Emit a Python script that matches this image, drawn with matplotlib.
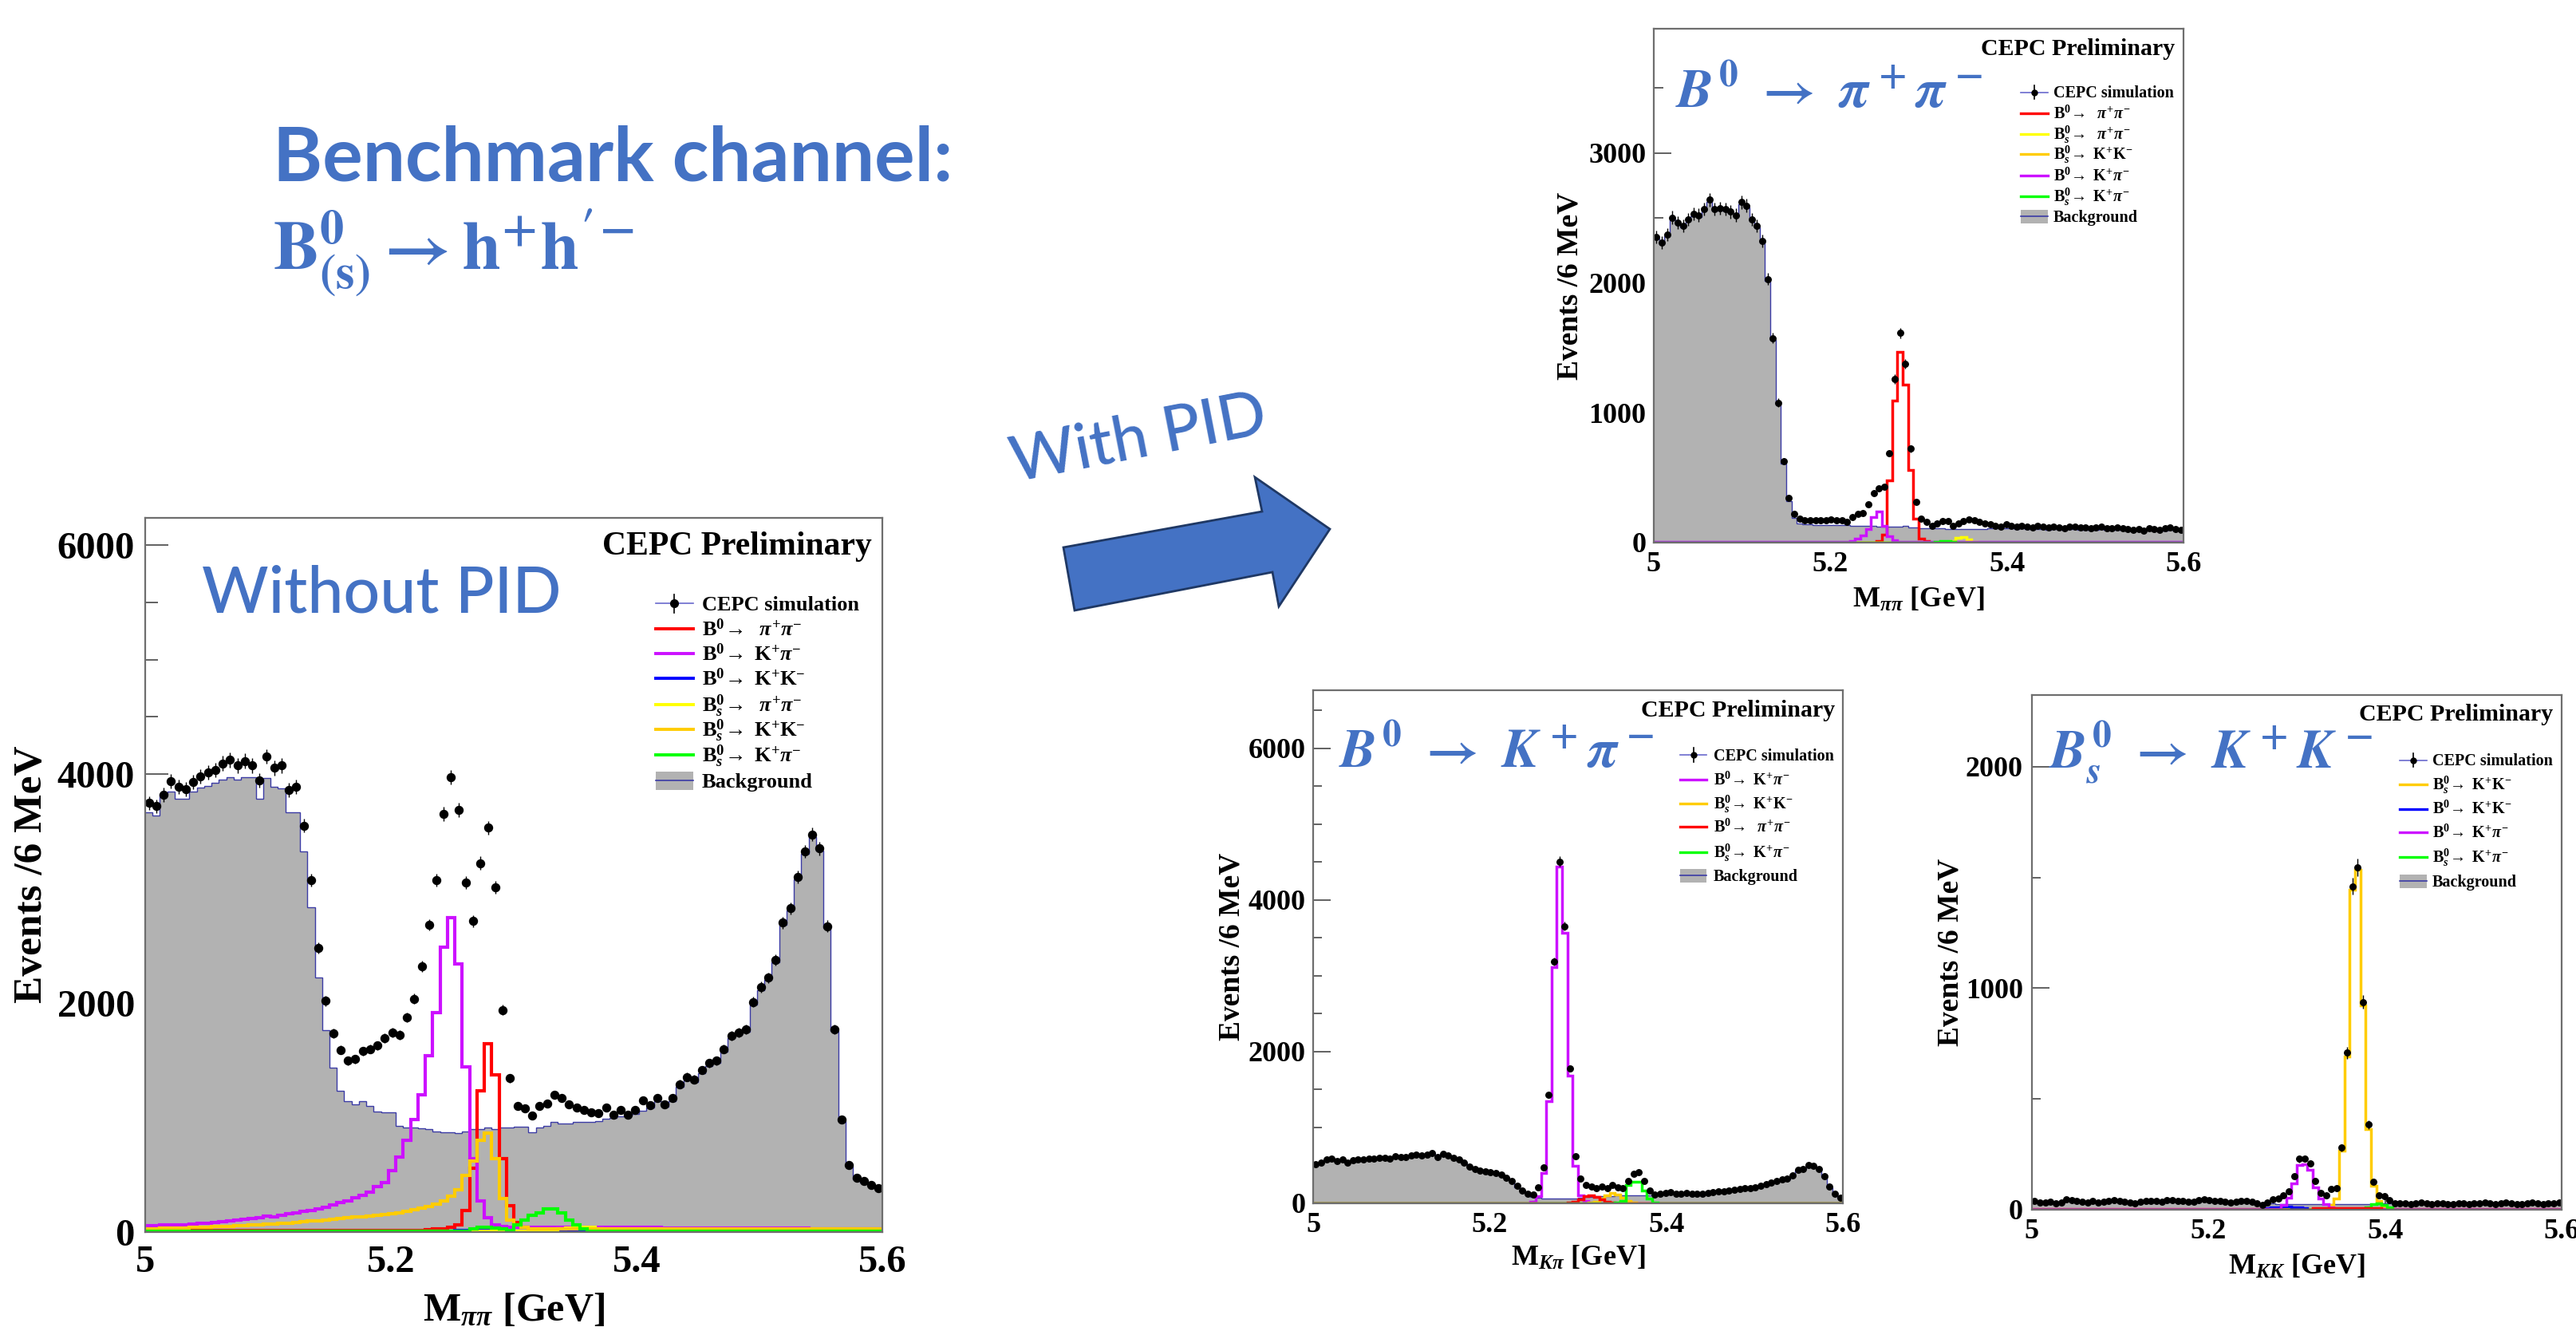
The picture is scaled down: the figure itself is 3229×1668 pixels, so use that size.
import numpy as np
import matplotlib
matplotlib.use("Agg")
import matplotlib.pyplot as plt
from matplotlib.patches import Polygon, Rectangle
from matplotlib.lines import Line2D
from matplotlib.ticker import MultipleLocator, FuncFormatter

# ---------------- data (events per 6 MeV bin, 100 bins from 5.0 to 5.6 GeV) ----------------
X_MIN, X_MAX, N_BINS = 5.0, 5.6, 100

# Left: without PID
L_DATA = [3746,3718,3820,3939,3890,3869,3930,3980,4012,4033,
          4094,4123,4074,4115,4074,3943,4155,4053,4074,3861,
          3890,3550,3072,2479,2020,1734,1591,1497,1509,1579,
          1599,1628,1693,1742,1722,1873,2037,2323,2683,3072,
          3652,3971,3685,3051,2716,3223,3530,3010,1939,1342,
          1100,1080,1018,1100,1121,1198,1170,1117,1088,1067,
          1047,1039,1088,1027,1067,1027,1067,1149,1108,1170,
          1117,1170,1292,1354,1333,1415,1476,1497,1599,1714,
          1742,1771,2008,2139,2221,2376,2703,2826,3100,3325,
          3472,3350,2671,1771,986,585,474,446,413,384]
L_BKG = [3665,3636,3828,3849,3787,3787,3849,3881,3898,3922,
         3951,3971,3951,3971,3971,3787,3963,3890,3877,3665,
         3665,3325,2834,2221,1763,1436,1231,1141,1117,1141,
         1100,1055,1047,1047,924,912,912,905,900,880,
         870,870,865,880,900,900,910,900,910,915,
         920,920,870,915,930,960,945,950,960,960,
         965,970,990,1000,1010,1020,1030,1060,1085,1145,
         1095,1145,1265,1330,1310,1390,1450,1475,1575,1690,
         1720,1750,1985,2115,2200,2355,2680,2805,3080,3305,
         3450,3330,2655,1755,970,570,460,432,400,372]
L_RED = [15]*38 + [20,30,30,40,65,188,556,1231,1648,1374,638,229,86,40,25] + [15]*47
L_MAG = [55,55,60,60,65,65,70,75,80,85,
         90,100,105,110,120,125,140,135,145,160,
         170,180,190,200,215,235,260,275,300,320,
         350,400,430,536,658,802,986,1198,1538,1918,
         2487,2744,2344,1444,638,270,127,65,50,45] + [40]*20 + [35]*20 + [30]*10
L_BLU = [5]*40 + [8,10,12,15,18,20,18,15,12,10,8] + [5]*49
L_YEL = [8]*55 + [15,25,35,45,45,40,30,20,12] + [8]*36
L_ORG = [30,30,32,33,35,37,40,42,45,48,
         50,52,55,58,62,65,68,72,76,80,
         85,90,95,100,105,110,118,125,130,135,
         140,145,150,160,170,180,195,210,225,245,
         270,311,372,495,618,802,863,638,290,106,
         65,45] + [30]*24 + [25]*24
L_GRN = [5]*44 + [30,40,40,35,25,15,65,106,147,168,200,200,168,106,65,25] + [5]*40

# Top: B0 -> pi pi selection
T_DATA = [2355,2309,2373,2503,2464,2438,2490,2529,2521,2568,
          2640,2568,2573,2568,2547,2521,2620,2594,2490,2438,
          2322,2029,1575,1078,624,345,223,184,171,171,
          171,171,171,176,171,171,158,197,223,228,
          293,378,417,430,689,1259,1614,1376,723,314,
          184,158,132,145,163,163,132,145,163,179,
          171,158,145,140,130,125,140,128,120,130,
          125,118,128,120,115,125,118,110,120,125,
          115,118,110,115,120,112,108,118,110,105,
          100,105,95,110,105,100,108,115,105,100]
T_BKG = [2340,2295,2360,2490,2450,2425,2475,2515,2505,2555,
         2625,2555,2560,2555,2535,2505,2605,2580,2475,2425,
         2310,2015,1560,1065,610,320,190,150,140,140,
         138,138,136,136,136,135,134,132,130,130,
         128,126,125,124,122,120,122,128,118,116,
         112,110,110,108,108,106,106,105,105,104,
         104,103,103,110,108,108,112,108,104,108,
         106,102,106,104,100,104,102,98,102,104,
         100,100,98,100,102,98,96,100,97,94,
         92,94,90,96,94,92,95,98,94,92]
T_RED = [3]*42 + [15,60,482,1096,1466,1215,560,184,28,10] + [3]*48
T_YEL = [2]*55 + [5,15,35,41,25,8] + [2]*39
T_ORG = [3]*100
T_MAG = [5]*37 + [15,28,54,106,197,241,132,49,16] + [5]*54
T_GRN = [2]*53 + [8,12,12,8] + [2]*43

# Bottom middle: B0 -> K pi selection
M_DATA = [514,542,584,591,556,577,542,567,574,577,
          591,594,601,601,591,619,612,612,636,643,
          636,643,661,608,657,629,601,574,532,479,
          455,434,416,409,398,374,339,297,227,171,
          129,112,206,478,1435,3188,4508,3655,1776,626,
          322,238,217,199,217,199,238,213,196,294,
          392,409,294,164,119,129,136,143,129,129,
          136,129,122,129,140,147,154,154,164,182,
          189,196,203,213,231,248,273,297,315,322,
          367,437,455,507,490,455,353,220,129,77]
M_BKG = [508,536,578,585,550,571,536,561,568,571,
         585,588,595,595,585,613,606,606,630,637,
         630,637,655,602,651,623,595,568,526,473,
         449,428,410,403,392,368,333,291,215,160,
         115,85,70,68,65,62,60,62,65,68,
         72,80,88,92,95,95,98,100,102,105,
         108,108,106,110,112,123,130,137,123,123,
         130,123,116,123,134,141,148,148,158,176,
         183,190,197,207,225,242,267,291,309,316,
         361,431,449,501,484,449,347,214,123,71]
M_MAG = [3]*41 + [20,97,395,1345,3117,4440,3569,1680,490,100,30,10] + [3]*47
M_ORG = [4]*52 + [10,25,60,110,135,120,70,30,10] + [4]*39
M_RED = [2]*48 + [10,25,55,95,105,85,50,25,10] + [2]*43
M_GRN = [2]*57 + [10,30,240,285,285,165,60,15] + [2]*35

# Bottom right: Bs -> K K selection
R_DATA = [38,34,32,36,30,34,46,44,38,36,
          33,38,32,35,40,42,38,36,32,30,
          35,38,40,38,36,42,45,40,38,36,
          35,44,48,42,38,40,37,34,36,38,
          40,36,28,22,34,46,49,64,83,150,
          229,231,210,131,77,64,95,97,280,709,
          1460,1545,938,384,125,64,61,43,28,30,
          28,26,30,32,28,25,28,30,27,24,
          28,30,26,28,30,32,28,26,30,33,
          28,25,27,30,32,28,26,30,28,32]
R_BKG = [35,31,29,33,27,31,43,41,35,33,
         30,35,29,32,37,39,35,33,29,27,
         32,35,37,35,33,39,42,37,35,33,
         32,41,45,39,35,37,34,31,33,35,
         37,33,25,20,28,28,26,26,26,26,
         26,25,25,25,25,25,26,26,26,27,
         27,27,27,27,27,27,28,28,25,27,
         25,23,27,29,25,22,25,27,24,21,
         25,27,23,25,27,29,25,23,27,30,
         25,22,24,27,29,25,23,27,25,29]
R_ORG = [3]*56 + [20,50,265,693,1445,1533,922,362,107,40,15] + [3]*33
R_BLU = [1]*44 + [8,10,12,14,14,12,10,8] + [1]*48
R_MAG = [2]*47 + [22,55,120,200,205,180,100,50,25,10] + [2]*43
R_GRN = [1]*63 + [10,25,30,20,10] + [1]*32
R_RED = [1]*53 + [6,8,8,8,8,8,8,8,8,8,8,8,6] + [1]*34

# ---------------- style ----------------
W, H = 3230, 1668
RED, MAG, BLU, YEL, ORG, GRN = "#FF0000", "#CC11FF", "#0000FF", "#FFFF00", "#FFCC00", "#00FF00"
GREY, BKG_LINE, TXT_BLUE = "#B2B2B2", "#3B3BA5", "#4472C4"

plt.rcParams["font.family"] = ["Liberation Serif", "DejaVu Serif"]
plt.rcParams["font.weight"] = "bold"
plt.rcParams["mathtext.fontset"] = "custom"
plt.rcParams["mathtext.rm"] = "Liberation Serif:bold"
plt.rcParams["mathtext.it"] = "Liberation Serif:italic:bold"
plt.rcParams["mathtext.bf"] = "Liberation Serif:bold"

fig = plt.figure(figsize=(W / 100, H / 100), dpi=100)
edges = np.linspace(X_MIN, X_MAX, N_BINS + 1)
centers = 0.5 * (edges[:-1] + edges[1:])
half = 0.5 * (edges[1] - edges[0])


def fx(x):
    return x / W


def fy(y):
    return 1 - y / H


def make_axes(x0, y0, x1, y1):
    return fig.add_axes([x0 / W, 1 - y1 / H, (x1 - x0) / W, (y1 - y0) / H])


def panel(ax, data, bkg, comps, ymax, major, tick_fs, maj_len, min_len, lw, ms, ypad, xpad):
    ax.stairs(bkg, edges, fill=True, color=GREY, zorder=1)
    ax.stairs(bkg, edges, color=BKG_LINE, lw=1.0, baseline=None, zorder=2)
    for vals, col in comps:
        ax.stairs(vals, edges, color=col, lw=lw, baseline=None, zorder=3)
    d = np.asarray(data, float)
    ax.errorbar(centers, d, xerr=half, yerr=np.sqrt(d), fmt="o", color="k", ms=ms,
                elinewidth=1.0, capsize=0, zorder=5)
    ax.set_xlim(X_MIN, X_MAX)
    ax.set_ylim(0, ymax)
    ax.set_axisbelow(True)
    ax.yaxis.set_major_locator(MultipleLocator(major))
    ax.yaxis.set_minor_locator(MultipleLocator(500))
    ax.xaxis.set_major_locator(MultipleLocator(0.2))
    ax.xaxis.set_major_formatter(FuncFormatter(lambda v, p: f"{v:g}"))
    ax.tick_params(axis="y", which="major", direction="in", length=maj_len, width=1.3,
                   color="#555555", labelsize=tick_fs, pad=ypad)
    ax.tick_params(axis="y", which="minor", direction="in", length=min_len, width=1.3, color="#555555")
    ax.tick_params(axis="x", which="major", direction="in", length=maj_len * 0.6, width=1.3,
                   color="#555555", labelsize=tick_fs, pad=xpad)
    for lab in ax.get_xticklabels() + ax.get_yticklabels():
        lab.set_fontweight("bold")
    for s in ax.spines.values():
        s.set_color("#6E6E6E")
        s.set_linewidth(1.6)
        s.set_zorder(6)


def legend(rows, x0, x1, xt, ys, fs, lw, ms, box_h):
    em = fs * 100 / 72
    xm = 0.5 * (x0 + x1)
    for (kind, label, color), y in zip(rows, ys):
        if kind == "data":
            fig.add_artist(Line2D([fx(x0), fx(x1)], [fy(y), fy(y)], color="#6A6ACD", lw=1.2))
            fig.add_artist(Line2D([fx(xm), fx(xm)], [fy(y - box_h / 2), fy(y + box_h / 2)], color="k", lw=1.2))
            fig.add_artist(Line2D([fx(xm)], [fy(y)], marker="o", color="k", ms=ms, ls="none"))
        elif kind == "line":
            fig.add_artist(Line2D([fx(x0), fx(x1)], [fy(y), fy(y)], color=color, lw=lw))
        else:
            fig.add_artist(Rectangle((fx(x0), fy(y + box_h / 2)), (x1 - x0) / W, box_h / H,
                                     transform=fig.transFigure, color=GREY, lw=0))
            fig.add_artist(Line2D([fx(x0), fx(x1)], [fy(y), fy(y)], color=BKG_LINE, lw=1.2))
        fig.text(fx(xt), fy(y + 0.33 * em), label, fontsize=fs, fontweight="bold",
                 ha="left", va="baseline")


LBL = {
    "sim": ("data", "CEPC simulation", None),
    "b0pipi": ("line", r"B$^{0}\!\rightarrow$  $\pi^{+}\pi^{-}$", RED),
    "b0kpi": ("line", r"B$^{0}\!\rightarrow$ K$^{+}\pi^{-}$", MAG),
    "b0kk": ("line", r"B$^{0}\!\rightarrow$ K$^{+}$K$^{-}$", BLU),
    "bspipi": ("line", r"B$_{s}^{0}\!\rightarrow$  $\pi^{+}\pi^{-}$", YEL),
    "bskk": ("line", r"B$_{s}^{0}\!\rightarrow$ K$^{+}$K$^{-}$", ORG),
    "bskpi": ("line", r"B$_{s}^{0}\!\rightarrow$ K$^{+}\pi^{-}$", GRN),
    "bkg": ("bkg", "Background", None),
}


def prelim(xr, yc, fs):
    em = fs * 100 / 72
    fig.text(fx(xr), fy(yc + 0.33 * em), "CEPC Preliminary", fontsize=fs, fontweight="bold",
             ha="right", va="baseline")


def blue_math(x, y, s, fs=49):
    fig.text(fx(x), fy(y), s, fontsize=fs, color=TXT_BLUE, math_fontfamily="stix",
             fontweight="normal", ha="left", va="baseline")


# ---------------- left panel (without PID) ----------------
axL = make_axes(182, 649, 1106, 1544)
panel(axL, L_DATA, L_BKG,
      [(L_RED, RED), (L_MAG, MAG), (L_BLU, BLU), (L_YEL, YEL), (L_ORG, ORG), (L_GRN, GRN)],
      6237, 2000, 35, 21, 11.5, 3.0, 7.2, 9.4, 11.5)
prelim(1093, 681, 30)
legend([LBL[k] for k in ["sim", "b0pipi", "b0kpi", "b0kk", "bspipi", "bskk", "bskpi", "bkg"]],
       822, 869, 880, [756, 788, 819, 850, 883, 914, 946, 978], 19, 2.8, 7, 23)
fig.text(fx(644), fy(1643), r"M$_{\pi\pi}$ [GeV]", fontsize=36, fontweight="bold", ha="center", va="center")
fig.text(fx(40), fy(1096), "Events /6 MeV", fontsize=37, fontweight="bold", ha="center", va="center",
         rotation=90)
fig.text(fx(253), fy(768), "Without PID", fontsize=58, color=TXT_BLUE, family="Lato",
         fontweight="medium", ha="left", va="baseline")

# ---------------- top panel (B0 -> pi pi) ----------------
axT = make_axes(2073, 35.5, 2737, 680)
panel(axT, T_DATA, T_BKG,
      [(T_RED, RED), (T_YEL, YEL), (T_ORG, ORG), (T_MAG, MAG), (T_GRN, GRN)],
      3959, 1000, 26, 16, 8.5, 2.5, 5.4, 7, 8)
prelim(2726, 59, 21.5)
legend([LBL[k] for k in ["sim", "b0pipi", "bspipi", "bskk", "b0kpi", "bskpi", "bkg"]],
       2533, 2567, 2574, [115.6, 141.8, 167.9, 193.2, 219.8, 246, 271.2], 14.5, 2.4, 5, 17)
fig.text(fx(2405), fy(752), r"M$_{\pi\pi}$ [GeV]", fontsize=26, fontweight="bold", ha="center", va="center")
fig.text(fx(1968), fy(358), "Events /6 MeV", fontsize=27, fontweight="bold", ha="center", va="center",
         rotation=90)
blue_math(2100, 135, r"$B^0\ \rightarrow\ \pi^+\pi^-$")

# ---------------- bottom middle (B0 -> K pi) ----------------
axM = make_axes(1646, 865, 2310, 1508)
panel(axM, M_DATA, M_BKG,
      [(M_MAG, MAG), (M_ORG, ORG), (M_RED, RED), (M_GRN, GRN)],
      6768, 2000, 26, 16, 8, 2.5, 5.4, 6.5, 8)
prelim(2300, 888, 21.5)
legend([LBL[k] for k in ["sim", "b0kpi", "bskk", "b0pipi", "bskpi", "bkg"]],
       2106, 2139, 2148, [946, 977, 1007, 1036, 1068, 1097], 14.5, 2.4, 5, 17)
fig.text(fx(1978), fy(1577), r"M$_{K\pi}$ [GeV]", fontsize=26, fontweight="bold", ha="center", va="center")
fig.text(fx(1544), fy(1186), "Events /6 MeV", fontsize=27, fontweight="bold", ha="center", va="center",
         rotation=90)
blue_math(1678, 962, r"$B^0\ \rightarrow\ K^+\pi^-$")

# ---------------- bottom right (Bs -> K K) ----------------
axR = make_axes(2547, 871, 3211, 1516)
panel(axR, R_DATA, R_BKG,
      [(R_ORG, ORG), (R_BLU, BLU), (R_MAG, MAG), (R_GRN, GRN), (R_RED, RED)],
      2323, 1000, 26, 16, 8, 2.5, 5.4, 8, 8)
prelim(3200, 893, 21.5)
legend([LBL[k] for k in ["sim", "bskk", "b0kk", "b0kpi", "bskpi", "bkg"]],
       3008, 3042, 3049, [952.5, 983, 1013.6, 1043, 1074, 1104], 14.5, 2.4, 5, 17)
fig.text(fx(2879), fy(1588), r"M$_{KK}$ [GeV]", fontsize=26, fontweight="bold", ha="center", va="center")
fig.text(fx(2445), fy(1193), "Events /6 MeV", fontsize=27, fontweight="bold", ha="center", va="center",
         rotation=90)
blue_math(2568, 962, r"$B_s^0\ \rightarrow\ K^+K^-$")

# ---------------- slide texts and arrow ----------------
fig.text(fx(342), fy(227), "Benchmark channel:", fontsize=68, color=TXT_BLUE, family="Lato",
         fontweight="bold", ha="left", va="baseline")
fig.text(fx(342), fy(337), r"$\mathbf{B}^{\mathbf{0}}_{\mathbf{(s)}}\rightarrow\mathbf{h}^{+}\mathbf{h}'^{-}$",
         fontsize=62, color=TXT_BLUE, math_fontfamily="stix", ha="left", va="baseline")
fig.text(fx(1427), fy(551), "With PID", fontsize=57, color=TXT_BLUE, family="Lato", fontweight="medium",
         ha="center", va="center", rotation=11, rotation_mode="anchor")
arrow_px = [(1347, 765), (1333, 686), (1582, 641), (1573, 598), (1667, 663), (1603, 760), (1595, 717)]
fig.add_artist(Polygon([(fx(x), fy(y)) for x, y in arrow_px], closed=True, transform=fig.transFigure,
                       facecolor=TXT_BLUE, edgecolor="#1F3864", lw=2))

fig.savefig("out.png", dpi=100)
